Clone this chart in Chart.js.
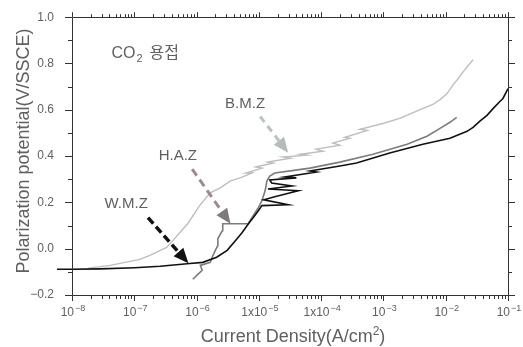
<!DOCTYPE html>
<html>
<head>
<meta charset="utf-8">
<script src="https://cdn.jsdelivr.net/npm/chart.js@4.4.1/dist/chart.umd.min.js"></script>
<style>
  html, body { margin: 0; padding: 0; background: #fff; }
</style>
</head>
<body>
<canvas id="polChart" width="523" height="347"></canvas>
<script>
const FONT = "'Liberation Sans', 'Noto Sans CJK KR', sans-serif";
const TEXT = '#606060';
const AXIS = '#333';

// W.M.Z - weld metal zone (A/cm2, V vs SSCE)
const wmzCurrent = [5.75e-9, 1.0e-8, 2.8e-8, 1.02e-7, 2.6e-7, 7.8e-7, 1.26e-6, 2.1e-6, 3.1e-6, 4.5e-6, 5.4e-6, 6.8e-6, 8.1e-6, 9.8e-6, 1.12e-5, 2.95e-5, 1.2e-5, 1.8e-5, 4.3e-5, 1.4e-5, 3.4e-5, 1.6e-5, 1.5e-5, 4.0e-5, 2.6e-5, 8.5e-5, 6.6e-5, 2.0e-4, 3.7e-4, 1.26e-3, 4.3e-3, 1.17e-2, 2.2e-2, 2.75e-2, 3.5e-2, 4.6e-2, 5.8e-2, 7.4e-2, 8.3e-2, 1.0e-1];
const wmzPotential = [-0.089, -0.089, -0.087, -0.082, -0.076, -0.064, -0.059, -0.037, -0.007, 0.044, 0.070, 0.108, 0.134, 0.164, 0.186, 0.190, 0.211, 0.224, 0.250, 0.258, 0.271, 0.284, 0.297, 0.306, 0.310, 0.331, 0.336, 0.357, 0.370, 0.413, 0.451, 0.477, 0.507, 0.524, 0.550, 0.576, 0.606, 0.636, 0.649, 0.691];

// H.A.Z - heat affected zone
const hazCurrent = [8.7e-7, 1.02e-6, 1.23e-6, 1.15e-6, 1.66e-6, 1.78e-6, 2.0e-6, 2.2e-6, 2.2e-6, 2.6e-6, 2.63e-6, 6.8e-6, 7.2e-6, 8.1e-6, 9.8e-6, 1.12e-5, 1.26e-5, 1.35e-5, 1.5e-5, 1.8e-5, 3.2e-5, 6.6e-5, 2.0e-4, 6.8e-4, 2.4e-3, 5.0e-3, 8.1e-3, 1.17e-2, 1.5e-2];
const hazPotential = [-0.132, -0.114, -0.093, -0.072, -0.059, -0.037, -0.007, 0.014, 0.044, 0.078, 0.108, 0.108, 0.121, 0.143, 0.177, 0.207, 0.250, 0.293, 0.314, 0.327, 0.336, 0.348, 0.374, 0.408, 0.451, 0.486, 0.520, 0.546, 0.567];

// B.M.Z - base metal zone
const bmzCurrent = [1.82e-8, 4.1e-8, 1.23e-7, 1.78e-7, 3.3e-7, 4.2e-7, 5.4e-7, 7.2e-7, 1.12e-6, 1.66e-6, 2.4e-6, 3.5e-6, 5.0e-6, 7.8e-6, 6.2e-6, 1.12e-5, 8.9e-6, 1.7e-5, 1.4e-5, 3.2e-5, 2.45e-5, 5.9e-5, 4.6e-5, 1.07e-4, 8.3e-5, 2.0e-4, 1.55e-4, 2.9e-4, 2.4e-4, 5.5e-4, 4.2e-4, 9.8e-4, 1.82e-3, 3.9e-3, 6.2e-3, 8.1e-3, 1.05e-2, 1.32e-2, 1.58e-2, 1.9e-2, 2.28e-2, 2.75e-2];
const bmzPotential = [-0.084, -0.072, -0.046, -0.029, 0.006, 0.036, 0.070, 0.108, 0.186, 0.241, 0.263, 0.293, 0.306, 0.327, 0.327, 0.348, 0.353, 0.370, 0.374, 0.391, 0.396, 0.404, 0.408, 0.421, 0.430, 0.447, 0.456, 0.477, 0.481, 0.511, 0.516, 0.541, 0.563, 0.601, 0.623, 0.644, 0.670, 0.709, 0.734, 0.764, 0.790, 0.816];

// axis ticks
const yTickValues = [-0.2, 0.0, 0.2, 0.4, 0.6, 0.8, 1.0];
const xDecades = [1e-8, 1e-7, 1e-6, 1e-5, 1e-4, 1e-3, 1e-2, 1e-1];
const xTickBase = ['10', '10', '10', '1x10', '1x10', '10', '10', '10'];
const xTickExp = ['\u22128', '\u22127', '\u22126', '\u22125', '\u22124', '\u22123', '\u22122', '\u22121'];

// zone labels and their arrows (data coordinates)
const zoneLabels = [
  { text: 'B.M.Z', x: 6.0e-6, y: 0.627 },
  { text: 'H.A.Z', x: 5.0e-7, y: 0.400 },
  { text: 'W.M.Z', x: 7.4e-8, y: 0.194 }
];
const zoneArrows = [
  { from: [1.05e-5, 0.571], to: [2.95e-5, 0.415], line: '#b9c5bf', head: '#b5bdb9', width: 3, dash: [7, 5] },
  { from: [8.5e-7, 0.344], to: [3.5e-6, 0.108], line: '#a08890', head: '#7f7b7d', width: 3, dash: [8, 5] },
  { from: [1.66e-7, 0.134], to: [7.4e-7, -0.063], line: '#111', head: '#111', width: 3.5, dash: [8, 4] }
];

function pairs(xs, ys) {
  return xs.map((x, i) => ({ x: x, y: ys[i] }));
}

function drawArrow(ctx, x0, y0, x1, y1, a) {
  const ang = Math.atan2(y1 - y0, x1 - x0);
  const len = 15, half = 6.5;
  const bx = x1 - len * Math.cos(ang), by = y1 - len * Math.sin(ang);
  ctx.save();
  ctx.strokeStyle = a.line;
  ctx.lineWidth = a.width;
  ctx.setLineDash(a.dash);
  ctx.beginPath();
  ctx.moveTo(x0, y0);
  ctx.lineTo(bx, by);
  ctx.stroke();
  ctx.setLineDash([]);
  ctx.fillStyle = a.head;
  ctx.beginPath();
  ctx.moveTo(x1, y1);
  ctx.lineTo(bx + half * Math.sin(ang), by - half * Math.cos(ang));
  ctx.lineTo(bx - half * Math.sin(ang), by + half * Math.cos(ang));
  ctx.closePath();
  ctx.fill();
  ctx.restore();
}

const decor = {
  id: 'decor',
  afterDatasetsDraw(chart) {
    const ctx = chart.ctx, xs = chart.scales.x, ys = chart.scales.y;
    zoneArrows.forEach(a => {
      drawArrow(ctx, xs.getPixelForValue(a.from[0]), ys.getPixelForValue(a.from[1]),
        xs.getPixelForValue(a.to[0]), ys.getPixelForValue(a.to[1]), a);
    });
    ctx.save();
    ctx.fillStyle = TEXT;
    ctx.textAlign = 'center';
    ctx.textBaseline = 'middle';
    ctx.font = '15px ' + FONT;
    zoneLabels.forEach(l => {
      ctx.fillText(l.text, xs.getPixelForValue(l.x), ys.getPixelForValue(l.y));
    });
    // CO2 용접
    const cx = xs.getPixelForValue(4.3e-8), cy = ys.getPixelForValue(0.824);
    ctx.textAlign = 'left';
    ctx.textBaseline = 'alphabetic';
    ctx.font = '16px ' + FONT;
    ctx.fillText('CO', cx, cy);
    let w = ctx.measureText('CO').width;
    ctx.font = '11px ' + FONT;
    ctx.fillText('2', cx + w + 1, cy + 4);
    w += ctx.measureText('2').width + 8;
    ctx.font = '16px ' + FONT;
    ctx.fillText('용접', cx + w, cy);
    ctx.restore();
  },
  afterDraw(chart) {
    const ctx = chart.ctx, xs = chart.scales.x, ys = chart.scales.y;
    const { left, right, top, bottom } = chart.chartArea;
    ctx.save();
    ctx.strokeStyle = AXIS;
    ctx.lineWidth = 1;
    ctx.beginPath();
    ctx.rect(Math.round(left) + 0.5, Math.round(top) + 0.5, Math.round(right - left), Math.round(bottom - top));
    ctx.stroke();

    // y tick marks: every 0.1, longer at labelled values
    ctx.beginPath();
    for (let i = -2; i <= 10; i++) {
      const py = Math.round(ys.getPixelForValue(i / 10)) + 0.5;
      const len = i % 2 === 0 ? 7 : 4;
      ctx.moveTo(left - len, py); ctx.lineTo(left, py);
      ctx.moveTo(right, py); ctx.lineTo(right + len, py);
    }
    // x tick marks: decades and 2..9 minors
    xDecades.forEach((d, i) => {
      const px = Math.round(xs.getPixelForValue(d)) + 0.5;
      ctx.moveTo(px, bottom); ctx.lineTo(px, bottom + 6);
      ctx.moveTo(px, top); ctx.lineTo(px, top - 5);
      if (i < xDecades.length - 1) {
        for (let k = 2; k <= 9; k++) {
          const mx = Math.round(xs.getPixelForValue(d * k)) + 0.5;
          ctx.moveTo(mx, bottom); ctx.lineTo(mx, bottom + 4);
          ctx.moveTo(mx, top); ctx.lineTo(mx, top - 3);
        }
      }
    });
    ctx.stroke();

    // x tick labels with superscript exponents
    ctx.fillStyle = TEXT;
    ctx.textBaseline = 'alphabetic';
    ctx.textAlign = 'left';
    xDecades.forEach((d, i) => {
      const px = xs.getPixelForValue(d);
      ctx.font = '12px ' + FONT;
      const wb = ctx.measureText(xTickBase[i]).width;
      ctx.font = '9px ' + FONT;
      const we = ctx.measureText(xTickExp[i]).width;
      const x0 = px - (wb + we + 1) / 2 + 1;
      ctx.font = '12px ' + FONT;
      ctx.fillText(xTickBase[i], x0, 316);
      ctx.font = '9px ' + FONT;
      ctx.fillText(xTickExp[i], x0 + wb + 1, 311);
    });

    // axis titles
    ctx.textAlign = 'left';
    ctx.textBaseline = 'middle';
    const t1 = 'Current Density(A/cm', t2 = ')';
    ctx.font = '18px ' + FONT;
    const w1 = ctx.measureText(t1).width;
    ctx.font = '12px ' + FONT;
    const ws = ctx.measureText('2').width;
    ctx.font = '18px ' + FONT;
    const w2 = ctx.measureText(t2).width;
    const tx = 293 - (w1 + ws + w2) / 2;
    ctx.fillText(t1, tx, 337);
    ctx.font = '12px ' + FONT;
    ctx.fillText('2', tx + w1, 332);
    ctx.font = '18px ' + FONT;
    ctx.fillText(t2, tx + w1 + ws, 337);

    ctx.translate(24, 151);
    ctx.rotate(-Math.PI / 2);
    ctx.textAlign = 'center';
    ctx.fillText('Polarization potential(V/SSCE)', 0, 0);
    ctx.restore();
  }
};

new Chart(document.getElementById('polChart'), {
  type: 'line',
  data: {
    datasets: [
      {
        label: 'W.M.Z',
        data: pairs(wmzCurrent, wmzPotential),
        borderColor: '#111',
        borderWidth: 1.6,
        clip: false
      },
      {
        label: 'H.A.Z',
        data: pairs(hazCurrent, hazPotential),
        borderColor: '#7c7c7c',
        borderWidth: 1.6
      },
      {
        label: 'B.M.Z',
        data: pairs(bmzCurrent, bmzPotential),
        borderColor: '#bebebe',
        borderWidth: 1.4
      }
    ]
  },
  options: {
    responsive: false,
    animation: false,
    devicePixelRatio: 1,
    layout: { padding: { left: 0, right: 15, top: 15, bottom: 0 } },
    elements: {
      point: { radius: 0 },
      line: { tension: 0, fill: false }
    },
    scales: {
      x: {
        type: 'logarithmic',
        min: 1e-8,
        max: 1e-1,
        grid: { display: false },
        border: { display: false },
        ticks: { display: false },
        afterFit(scale) { scale.height = 52; }
      },
      y: {
        min: -0.2,
        max: 1.0,
        grid: { display: false },
        border: { display: false },
        afterBuildTicks(scale) {
          scale.ticks = yTickValues.map(v => ({ value: v }));
        },
        ticks: {
          padding: 10,
          color: TEXT,
          font: { family: FONT, size: 12 },
          callback(v) {
            if (Math.abs(v) < 1e-9) return '0.0';
            return v.toFixed(1).replace('-', '\u2212');
          }
        },
        afterFit(scale) { scale.width = 72; }
      }
    },
    plugins: {
      legend: { display: false },
      tooltip: { enabled: false }
    }
  },
  plugins: [decor]
});
</script>
</body>
</html>
